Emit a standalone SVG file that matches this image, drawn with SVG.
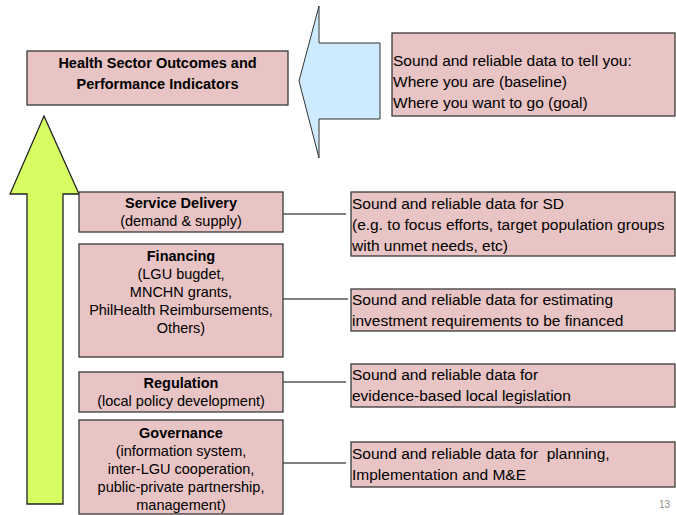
<svg xmlns="http://www.w3.org/2000/svg" width="676" height="515" viewBox="0 0 676 515">
<style>
.box{fill:#e8c4c4;stroke:#3a3a3a;stroke-width:1.3}
.t{font-family:"Liberation Sans",Arial,sans-serif;font-size:14.5px;fill:#000}
.b{font-weight:bold}
.c{text-anchor:middle}
.r{font-family:"Liberation Sans",Arial,sans-serif;font-size:15.5px;fill:#000}
.con{stroke:#555;stroke-width:1.4;fill:none}
</style>
<rect width="676" height="515" fill="#fff"/>
<g id="green-arrow">
<polygon points="44,116 79,194 63,194 63,504 27,504 27,194 10,194" fill="#d6fd62" stroke="#222" stroke-width="1.3"/>
</g>
<g id="blue-arrow">
<polygon points="299,81 319,6 319,43 380,43 380,119 319,119 319,158" fill="#cdeafe" stroke="#333" stroke-width="1"/>
</g>
<g id="outcomes">
<rect class="box" x="27" y="51" width="261" height="54"/>
<text class="t b c" x="157.5" y="68">Health Sector Outcomes and</text>
<text class="t b c" x="157.5" y="89">Performance Indicators</text>
</g>
<g id="data-goal">
<rect class="box" x="392" y="33" width="283" height="83"/>
<text class="r" x="393" y="66">Sound and reliable data to tell you:</text>
<text class="r" x="393" y="87">Where you are (baseline)</text>
<text class="r" x="393" y="108">Where you want to go (goal)</text>
</g>
<g id="connectors">
<line class="con" x1="283" y1="214" x2="346" y2="214"/>
<line class="con" x1="283" y1="299" x2="348" y2="299"/>
<line class="con" x1="283" y1="382" x2="346" y2="382"/>
<line class="con" x1="283" y1="463" x2="346" y2="463"/>
</g>
<g id="service-delivery">
<rect class="box" x="79" y="192" width="204" height="40"/>
<text class="t b c" x="181" y="208">Service Delivery</text>
<text class="t c" x="181" y="226">(demand &amp; supply)</text>
</g>
<g id="financing">
<rect class="box" x="79" y="244" width="204" height="113"/>
<text class="t b c" x="181" y="261">Financing</text>
<text class="t c" x="181" y="279">(LGU bugdet,</text>
<text class="t c" x="181" y="297">MNCHN grants,</text>
<text class="t c" x="181" y="315">PhilHealth Reimbursements,</text>
<text class="t c" x="181" y="333">Others)</text>
</g>
<g id="regulation">
<rect class="box" x="79" y="372" width="204" height="40"/>
<text class="t b c" x="181" y="388">Regulation</text>
<text class="t c" x="181" y="406">(local policy development)</text>
</g>
<g id="governance">
<rect class="box" x="79" y="420" width="204" height="94"/>
<text class="t b c" x="181" y="438">Governance</text>
<text class="t c" x="181" y="456">(information system,</text>
<text class="t c" x="181" y="474">inter-LGU cooperation,</text>
<text class="t c" x="181" y="492">public-private partnership,</text>
<text class="t c" x="181" y="510">management)</text>
</g>
<g id="data-sd">
<rect class="box" x="351" y="192" width="324" height="64"/>
<text class="r" x="352" y="209">Sound and reliable data for SD</text>
<text class="r" x="352" y="230">(e.g. to focus efforts, target population groups</text>
<text class="r" x="352" y="251">with unmet needs, etc)</text>
</g>
<g id="data-financing">
<rect class="box" x="351" y="289" width="324" height="42"/>
<text class="r" x="352" y="305">Sound and reliable data for estimating</text>
<text class="r" x="352" y="326">investment requirements to be financed</text>
</g>
<g id="data-regulation">
<rect class="box" x="351" y="364" width="324" height="43"/>
<text class="r" x="352" y="380">Sound and reliable data for</text>
<text class="r" x="352" y="401">evidence-based local legislation</text>
</g>
<g id="data-governance">
<rect class="box" x="351" y="442" width="324" height="45"/>
<text class="r" x="352" y="459" xml:space="preserve">Sound and reliable data for  planning,</text>
<text class="r" x="352" y="480">Implementation and M&amp;E</text>
</g>
<text x="670" y="508" font-family="'Liberation Sans',Arial,sans-serif" font-size="10" fill="#8c8c8c" text-anchor="end">13</text>
</svg>
